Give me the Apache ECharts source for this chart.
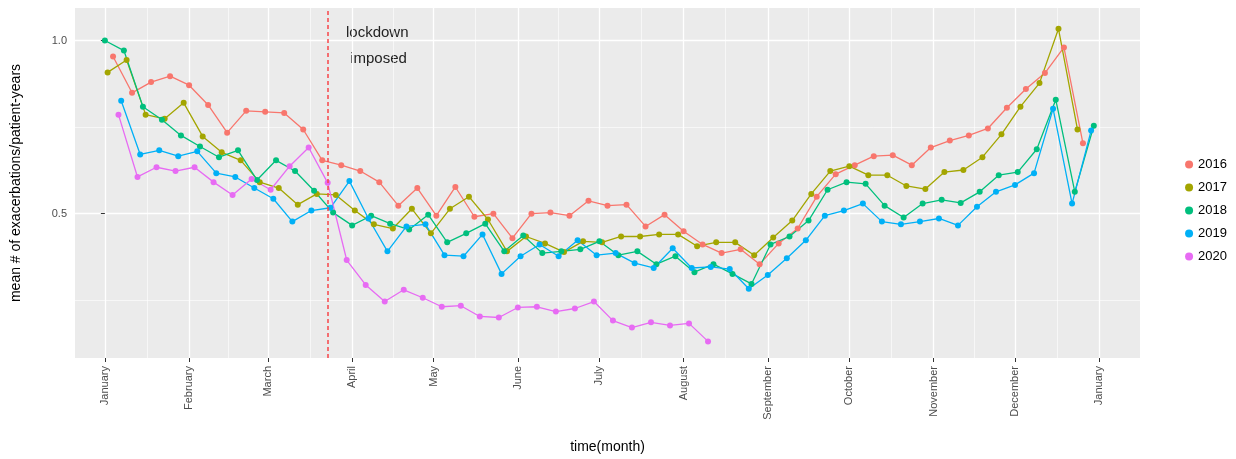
<!DOCTYPE html>
<html>
<head>
<meta charset="utf-8">
<script src="https://cdn.jsdelivr.net/npm/echarts@6/dist/echarts.min.js"></script>
<style>html,body{margin:0;padding:0;background:#fff}#chart{width:1236px;height:459px}</style>
</head>
<body>
<div id="chart"></div>
<script>
// 月份刻度 (一年中的天数)
var monthNames = ['January','February','March','April','May','June','July','August','September','October','November','December','January'];
var monthDays = [0, 31, 60, 91, 121, 152, 182, 213, 244, 274, 305, 335, 366];
var lockdownDay = 82;

// 每年第一个点的起始天数, 之后每周一个点
var years = ['2016', '2017', '2018', '2019', '2020'];
var startDays = [3, 1, 0, 6, 5];
var colors = ['#F8766D', '#A3A500', '#00BF7D', '#00B0F6', '#E76BF3'];

var v2016 = [0.954,0.849,0.88,0.897,0.871,0.814,0.734,0.797,0.794,0.791,0.743,0.654,0.64,0.623,0.591,0.523,0.574,0.494,0.577,0.491,0.5,0.429,0.5,0.503,0.494,0.537,0.523,0.526,0.463,0.497,0.449,0.411,0.386,0.397,0.354,0.414,0.457,0.549,0.614,0.64,0.666,0.669,0.64,0.691,0.711,0.726,0.746,0.806,0.86,0.906,0.98,0.703];
var v2017 = [0.908,0.944,0.786,0.774,0.82,0.723,0.677,0.654,0.591,0.574,0.526,0.557,0.554,0.509,0.469,0.457,0.514,0.443,0.514,0.549,0.483,0.391,0.434,0.414,0.389,0.42,0.417,0.434,0.434,0.44,0.44,0.406,0.417,0.417,0.38,0.431,0.48,0.557,0.623,0.637,0.611,0.611,0.58,0.571,0.62,0.626,0.663,0.729,0.809,0.877,1.034,0.743];
var v2018 = [1.0,0.971,0.809,0.771,0.726,0.694,0.663,0.683,0.597,0.654,0.623,0.566,0.503,0.466,0.494,0.471,0.454,0.497,0.417,0.443,0.471,0.391,0.437,0.386,0.391,0.397,0.42,0.38,0.391,0.354,0.377,0.331,0.354,0.326,0.297,0.411,0.434,0.48,0.569,0.591,0.586,0.523,0.489,0.529,0.54,0.531,0.563,0.611,0.62,0.686,0.829,0.563,0.754];
var v2019 = [0.826,0.671,0.683,0.666,0.68,0.617,0.606,0.574,0.543,0.477,0.509,0.517,0.594,0.486,0.391,0.463,0.469,0.38,0.377,0.44,0.326,0.377,0.411,0.377,0.423,0.38,0.386,0.357,0.343,0.4,0.343,0.346,0.34,0.283,0.323,0.371,0.423,0.494,0.509,0.529,0.477,0.469,0.477,0.486,0.466,0.52,0.563,0.583,0.617,0.803,0.529,0.74];
var v2020 = [0.786,0.606,0.634,0.623,0.634,0.591,0.554,0.6,0.569,0.637,0.691,0.589,0.366,0.294,0.246,0.28,0.257,0.231,0.234,0.203,0.2,0.229,0.231,0.217,0.226,0.246,0.191,0.171,0.186,0.177,0.183,0.131];
var allValues = [v2016, v2017, v2018, v2019, v2020];

var yTicks = [0.5, 1.0];
var yGrid = [0.25, 0.5, 0.75, 1.0];

var chart = echarts.init(document.getElementById('chart'));

var toPairs = function(vals, start) {
  return vals.map(function(v, i) { return [start + 7 * i, v]; });
};

// 背景网格线 (ggplot 风格)
var gridLines = [];
monthDays.forEach(function(d, i) {
  gridLines.push({ xAxis: d, lineStyle: { color: '#fff', width: 1.3, type: 'solid' } });
  if (i < monthDays.length - 1) {
    gridLines.push({ xAxis: (d + monthDays[i + 1]) / 2, lineStyle: { color: '#fff', width: 0.6, type: 'solid' } });
  }
});
yGrid.forEach(function(y, i) {
  gridLines.push({ yAxis: y, lineStyle: { color: '#fff', width: i % 2 ? 1.3 : 0.6, type: 'solid' } });
});

var series = [{
  type: 'line', data: [], silent: true, z: 0,
  markLine: { silent: true, symbol: 'none', label: { show: false }, animation: false, z: 0, data: gridLines }
}];
years.forEach(function(y, k) {
  series.push({
    name: y, type: 'line', data: toPairs(allValues[k], startDays[k]),
    symbol: 'circle', symbolSize: 6, color: colors[k], z: 3,
    lineStyle: { width: 1.3 }, animation: false
  });
});
series.push({
  type: 'line', data: [], silent: true, z: 2,
  markLine: {
    silent: true, symbol: 'none', animation: false,
    label: { show: false },
    data: [{ xAxis: lockdownDay, lineStyle: { color: '#F8454A', width: 1.5, type: [4, 3] } }]
  }
});

var option = {
  backgroundColor: '#fff',
  grid: { left: 75, right: 96, top: 8, bottom: 97, backgroundColor: '#EBEBEB', show: true, borderWidth: 0 },
  legend: {
    orient: 'vertical', right: 4, top: 153, itemGap: 10,
    data: years, icon: 'circle', itemWidth: 8, itemHeight: 8,
    textStyle: { fontSize: 13, color: '#000', fontFamily: 'Liberation Sans' }
  },
  xAxis: {
    type: 'value', min: -11, max: 381,
    name: 'time(month)', nameLocation: 'middle', nameGap: 82,
    nameTextStyle: { fontSize: 14, color: '#000', fontFamily: 'Liberation Sans' },
    axisLine: { show: false },
    axisTick: { show: true, customValues: monthDays, length: 4, lineStyle: { color: '#333' } },
    splitLine: { show: false },
    axisLabel: {
      customValues: monthDays, rotate: 90, color: '#4d4d4d', fontSize: 11, margin: 8,
      fontFamily: 'Liberation Sans',
      formatter: function(v) { return monthNames[monthDays.indexOf(v)]; }
    }
  },
  yAxis: {
    type: 'value', min: 0.083, max: 1.094,
    name: 'mean # of exacerbations/patient-years', nameLocation: 'middle', nameGap: 52,
    nameTextStyle: { fontSize: 14, color: '#000', fontFamily: 'Liberation Sans' },
    axisLine: { show: false },
    axisTick: { show: true, customValues: yTicks, length: 4, lineStyle: { color: '#333' } },
    splitLine: { show: false },
    axisLabel: {
      customValues: yTicks, color: '#4d4d4d', fontSize: 11, fontFamily: 'Liberation Sans',
      formatter: function(v) { return v.toFixed(1); }
    }
  },
  graphic: [{
    type: 'text', left: 346, top: 20,
    style: { text: 'lockdown\n imposed', fontSize: 15, lineHeight: 26, fill: '#222', fontFamily: 'Liberation Sans' }
  }],
  series: series
};

chart.setOption(option);
</script>
</body>
</html>
